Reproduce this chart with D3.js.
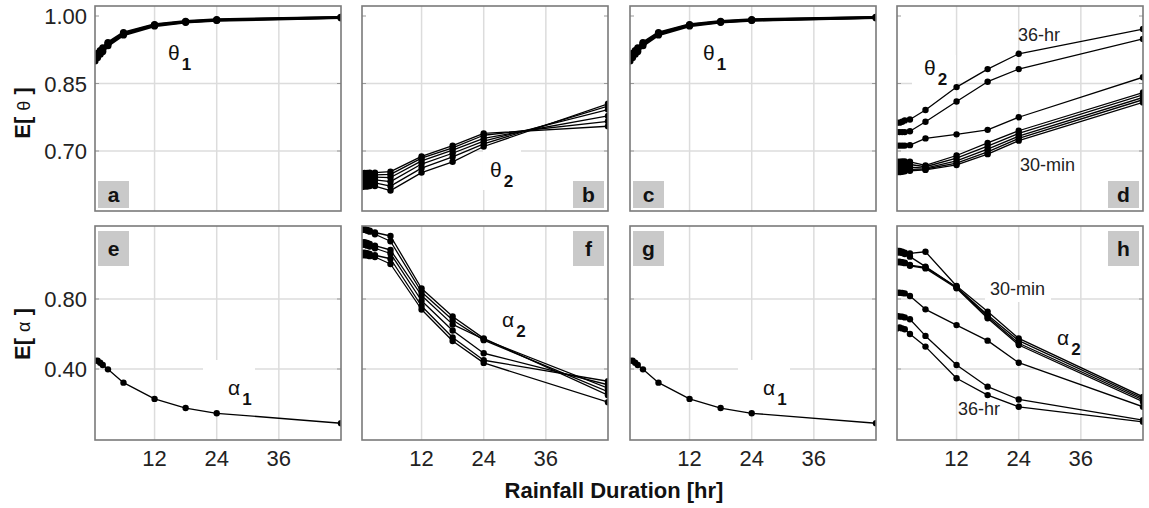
<!DOCTYPE html>
<html><head><meta charset="utf-8">
<script src="https://cdn.jsdelivr.net/npm/d3@7"></script>
<style>
html,body{margin:0;padding:0;background:#fff;}
svg{display:block;font-family:"Liberation Sans",Arial,sans-serif;}
</style></head>
<body>
<svg id="chart" width="1149" height="508"></svg>
<script>
// ---------------- data ----------------
const durations = [0.5, 1, 1.5, 2, 3, 6, 12, 18, 24, 48];
const xTicks = [12, 24, 36];
const thetaTicks = [0.70, 0.85, 1.00];
const thetaTickLabels = ["0.70", "0.85", "1.00"];
const alphaTicks = [0.40, 0.80];
const alphaTickLabels = ["0.40", "0.80"];
const letters = ["a", "b", "c", "d", "e", "f", "g", "h"];

// theta1 (panels a, c)
const theta1 = [
  [0.905, 0.913, 0.920, 0.926, 0.938, 0.961, 0.980, 0.987, 0.991, 0.997],
  [0.900, 0.908, 0.915, 0.921, 0.934, 0.958, 0.978, 0.986, 0.990, 0.996],
  [0.910, 0.917, 0.923, 0.929, 0.941, 0.963, 0.981, 0.988, 0.992, 0.997]
];
// theta2 (panel b)
const theta2B = [
  [0.650, 0.651, 0.651, 0.652, 0.652, 0.654, 0.688, 0.712, 0.739, 0.755],
  [0.645, 0.646, 0.646, 0.647, 0.647, 0.648, 0.684, 0.707, 0.735, 0.766],
  [0.640, 0.641, 0.641, 0.642, 0.642, 0.641, 0.678, 0.702, 0.728, 0.778],
  [0.634, 0.635, 0.635, 0.636, 0.636, 0.632, 0.671, 0.695, 0.722, 0.792],
  [0.627, 0.628, 0.628, 0.629, 0.629, 0.622, 0.662, 0.687, 0.716, 0.800],
  [0.620, 0.621, 0.621, 0.622, 0.622, 0.612, 0.652, 0.676, 0.710, 0.805]
];
// theta2 (panel d)
const theta2D = [
  [0.763, 0.763, 0.765, 0.768, 0.770, 0.791, 0.842, 0.882, 0.916, 0.971],
  [0.742, 0.742, 0.742, 0.742, 0.744, 0.765, 0.810, 0.854, 0.882, 0.949],
  [0.712, 0.712, 0.712, 0.712, 0.713, 0.728, 0.737, 0.747, 0.775, 0.864],
  [0.676, 0.676, 0.677, 0.677, 0.676, 0.668, 0.690, 0.718, 0.745, 0.830],
  [0.670, 0.670, 0.671, 0.671, 0.670, 0.665, 0.684, 0.711, 0.739, 0.825],
  [0.664, 0.664, 0.665, 0.665, 0.664, 0.662, 0.678, 0.704, 0.733, 0.819],
  [0.658, 0.658, 0.659, 0.659, 0.659, 0.660, 0.673, 0.698, 0.728, 0.814],
  [0.653, 0.653, 0.654, 0.655, 0.656, 0.658, 0.669, 0.693, 0.723, 0.808]
];
// alpha1 (panels e, g)
const alpha1 = [
  [0.448, 0.447, 0.436, 0.423, 0.398, 0.322, 0.229, 0.177, 0.147, 0.090]
];
// alpha2 (panel f)
const alpha2F = [
  [1.200, 1.200, 1.195, 1.190, 1.180, 1.160, 0.860, 0.700, 0.575, 0.250],
  [1.195, 1.195, 1.190, 1.185, 1.170, 1.130, 0.840, 0.680, 0.565, 0.270],
  [1.125, 1.125, 1.120, 1.115, 1.105, 1.080, 0.820, 0.655, 0.570, 0.290],
  [1.110, 1.110, 1.105, 1.100, 1.090, 1.060, 0.790, 0.620, 0.490, 0.310],
  [1.065, 1.065, 1.062, 1.058, 1.050, 1.030, 0.760, 0.580, 0.450, 0.330],
  [1.050, 1.050, 1.048, 1.045, 1.040, 1.000, 0.740, 0.560, 0.435, 0.210]
];
// alpha2 (panel h)
const alpha2H = [
  [1.076, 1.074, 1.070, 1.065, 1.061, 1.070, 0.874, 0.728, 0.575, 0.241],
  [1.065, 1.065, 1.062, 1.057, 1.042, 0.985, 0.867, 0.709, 0.562, 0.232],
  [1.013, 1.013, 1.010, 1.008, 0.994, 0.981, 0.867, 0.699, 0.547, 0.223],
  [1.010, 1.010, 1.008, 1.005, 0.990, 0.975, 0.861, 0.690, 0.537, 0.213],
  [0.836, 0.836, 0.834, 0.832, 0.817, 0.741, 0.651, 0.562, 0.436, 0.184],
  [0.703, 0.700, 0.699, 0.695, 0.684, 0.589, 0.423, 0.299, 0.226, 0.108],
  [0.632, 0.638, 0.632, 0.627, 0.600, 0.528, 0.347, 0.251, 0.184, 0.098]
];

// ---------------- layout ----------------
const svg = d3.select("#chart");
const FONT = '"Liberation Sans",Arial,sans-serif';
const panelLeft = [95, 362, 630, 897];
const panelW = 246;
const rows = [{top: 6, bottom: 211}, {top: 226, bottom: 440}];

const x = d3.scaleLinear().domain([0.5, 48]).range([0, panelW]);
const yTheta = d3.scaleLinear().domain([0.70, 1.00]).range([151, 16]);
const yAlpha = d3.scaleLinear().domain([0.40, 0.80]).range([369, 299]);

const panels = [
  {col: 0, row: 0, y: yTheta, data: theta1, width: 2.6, r: 3.6, letterPos: "bl",
   labels: [{g: "θ", s: "1", x: 168, y: 60, box: null}]},
  {col: 1, row: 0, y: yTheta, data: theta2B, width: 1.3, r: 3.2, letterPos: "br",
   labels: [{g: "θ", s: "2", x: 490, y: 177, box: [483, 148, 38, 42]}]},
  {col: 2, row: 0, y: yTheta, data: theta1, width: 2.6, r: 3.6, letterPos: "bl",
   labels: [{g: "θ", s: "1", x: 703, y: 60, box: null}]},
  {col: 3, row: 0, y: yTheta, data: theta2D, width: 1.3, r: 3.2, letterPos: "br",
   labels: [{g: "θ", s: "2", x: 924, y: 75, box: [912, 55, 44, 36]},
            {t: "36-hr", x: 1018, y: 41},
            {t: "30-min", x: 1020, y: 171}]},
  {col: 0, row: 1, y: yAlpha, data: alpha1, width: 1.3, r: 3.2, letterPos: "tl",
   labels: [{g: "α", s: "1", x: 228, y: 395, box: [203, 360, 52, 50]}]},
  {col: 1, row: 1, y: yAlpha, data: alpha2F, width: 1.3, r: 3.2, letterPos: "tr",
   labels: [{g: "α", s: "2", x: 502, y: 327, box: null}]},
  {col: 2, row: 1, y: yAlpha, data: alpha1, width: 1.3, r: 3.2, letterPos: "tl",
   labels: [{g: "α", s: "1", x: 763, y: 395, box: [738, 360, 52, 50]}]},
  {col: 3, row: 1, y: yAlpha, data: alpha2H, width: 1.3, r: 3.2, letterPos: "tr",
   labels: [{g: "α", s: "2", x: 1057, y: 345, box: null},
            {t: "30-min", x: 990, y: 295, box: [985, 280, 66, 22]},
            {t: "36-hr", x: 958, y: 415}]}
];

panels.forEach((p, i) => {
  const left = panelLeft[p.col];
  const right = left + panelW;
  const {top, bottom} = rows[p.row];
  const ticks = p.row === 0 ? thetaTicks : alphaTicks;
  const g = svg.append("g");
  const clipId = "clip" + i;
  svg.append("clipPath").attr("id", clipId)
    .append("rect").attr("x", left).attr("y", top).attr("width", panelW).attr("height", bottom - top);

  // background
  g.append("rect").attr("x", left).attr("y", top).attr("width", panelW).attr("height", bottom - top).attr("fill", "#fff");

  // vertical gridlines
  g.selectAll(".vg").data(xTicks).join("line")
    .attr("x1", d => left + x(d)).attr("x2", d => left + x(d))
    .attr("y1", top).attr("y2", bottom)
    .attr("stroke", "#dcdcdc").attr("stroke-width", 1.5);
  // horizontal gridlines (except topmost 1.00)
  g.selectAll(".hg").data(ticks.filter(t => t < 0.99)).join("line")
    .attr("x1", left).attr("x2", right)
    .attr("y1", d => p.y(d)).attr("y2", d => p.y(d))
    .attr("stroke", "#dcdcdc").attr("stroke-width", 1.5);
  // small ticks on left and right
  ticks.forEach(t => {
    [[left, left + 4], [right - 4, right]].forEach(([a, b]) => {
      g.append("line").attr("x1", a).attr("x2", b).attr("y1", p.y(t)).attr("y2", p.y(t))
        .attr("stroke", "#999").attr("stroke-width", 1);
    });
  });

  // letter box
  const bw = 31, bh = p.row === 0 ? 27 : 35;
  const bx = p.letterPos.endsWith("l") ? left + 3 : right - bw - 4;
  const by = p.letterPos.startsWith("b") ? bottom - bh - 3 : top + 5;
  g.append("rect").attr("x", bx).attr("y", by).attr("width", bw).attr("height", bh).attr("fill", "#c9c9c9");
  g.append("text").attr("x", bx + bw / 2).attr("y", by + bh / 2 + 7)
    .attr("text-anchor", "middle").attr("font-weight", "bold").attr("font-size", 21)
    .attr("fill", "#111").text(letters[i]);

  // label white boxes
  p.labels.forEach(l => {
    if (l.box) g.append("rect").attr("x", l.box[0]).attr("y", l.box[1]).attr("width", l.box[2]).attr("height", l.box[3]).attr("fill", "#fff");
  });

  // data
  const dg = g.append("g").attr("clip-path", `url(#${clipId})`);
  const line = d3.line().x((d, j) => left + x(durations[j])).y(d => p.y(d));
  p.data.forEach(s => {
    dg.append("path").attr("d", line(s)).attr("fill", "none").attr("stroke", "#000").attr("stroke-width", p.width).attr("stroke-linejoin", "round");
    dg.selectAll(null).data(s).join("circle")
      .attr("cx", (d, j) => left + x(durations[j])).attr("cy", d => p.y(d)).attr("r", p.r).attr("fill", "#000");
  });

  // labels
  p.labels.forEach(l => {
    if (l.g) {
      const t = g.append("text").attr("x", l.x).attr("y", l.y).attr("font-size", 21).attr("fill", "#111");
      t.append("tspan").text(l.g);
      t.append("tspan").attr("dx", 2).attr("dy", 10).attr("font-size", 17).attr("font-weight", "bold").text(l.s);
    } else {
      g.append("text").attr("x", l.x).attr("y", l.y).attr("font-size", 18).attr("fill", "#222").text(l.t);
    }
  });

  // frame
  g.append("rect").attr("x", left).attr("y", top).attr("width", panelW).attr("height", bottom - top)
    .attr("fill", "none").attr("stroke", "#7a7a7a").attr("stroke-width", 1.6);

  // y tick labels on first column
  if (p.col === 0) {
    const labs = p.row === 0 ? thetaTickLabels : alphaTickLabels;
    ticks.forEach((t, k) => {
      g.append("text").attr("x", left - 8).attr("y", p.y(t) + 8).attr("text-anchor", "end")
        .attr("font-size", 22).attr("fill", "#222").text(labs[k]);
    });
  }
  // x tick labels on bottom row
  if (p.row === 1) {
    g.selectAll(".xl").data(xTicks).join("text")
      .attr("x", d => left + x(d)).attr("y", bottom + 26).attr("text-anchor", "middle")
      .attr("font-size", 22).attr("fill", "#222").text(d => d);
  }
});

// axis titles
function yTitle(cy, greek) {
  const t = svg.append("text").attr("transform", `translate(30,${cy}) rotate(-90)`)
    .attr("text-anchor", "middle").attr("font-size", 22).attr("font-weight", "bold").attr("fill", "#111");
  t.append("tspan").text("E[ ");
  t.append("tspan").attr("font-weight", "normal").attr("font-size", 18).text(greek);
  t.append("tspan").text(" ]");
}
yTitle(113, "θ");
yTitle(334, "α");

svg.append("text").attr("x", 614).attr("y", 498).attr("text-anchor", "middle")
  .attr("font-size", 22).attr("font-weight", "bold").attr("fill", "#111").text("Rainfall Duration [hr]");
</script>
</body></html>
